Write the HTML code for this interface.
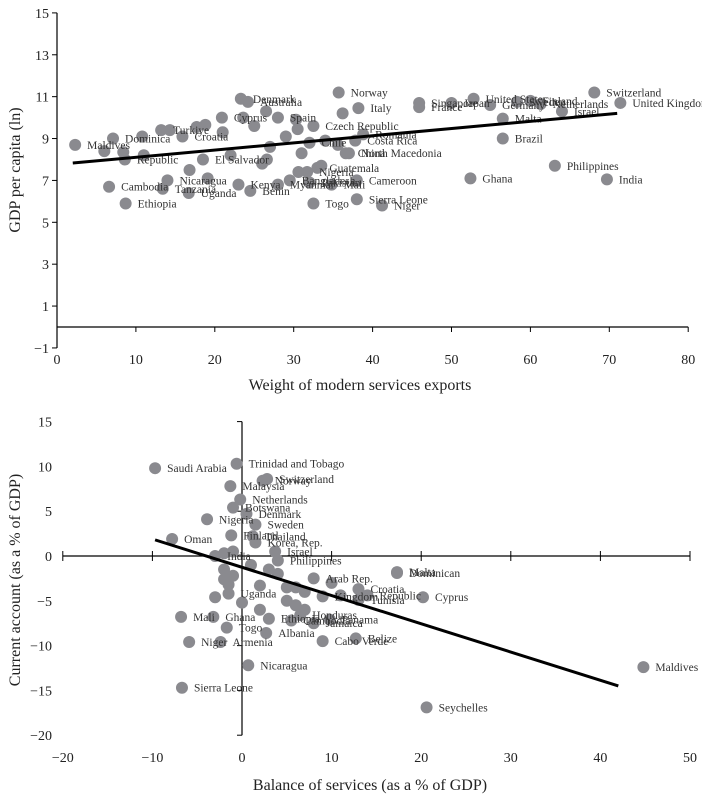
<!DOCTYPE html>
<html><head><meta charset="utf-8"><style>
body{margin:0;background:#fff;width:702px;height:800px;overflow:hidden}
svg{position:absolute;left:0;top:0}
text{font-family:"Liberation Serif",serif;fill:#222}
.lbl{font-size:11.5px;fill:#333}
</style></head><body>
<svg id="s" width="702" height="800"></svg>
<script>
// ---- Top chart data ----
const topNames=["Maldives","","Dominica","","Republic","","Turkiye","","Croatia","","","Cyprus","Denmark","Australia","","Spain","","","Czech Republic","Norway","Italy","","","Chile","North Macedonia","Guatemala","Nicaragua","","El Salvador","","Cambodia","Ethiopia","Tanzania","Uganda","","Benin","Kenya","Myanmar","Bangladesh","Pakistan","Togo","Mali","","","Sierra Leone","Niger","Cameroon","Nigeria","China","","Costa Rica","Romania","Singapore","France","Japan","United States","Germany","Sweden","Finland","Netherlands","Switzerland","United Kingdom","Israel","Malta","Brazil","Ghana","Philippines","India","","","","","","","","",""];
const topX=[2.3,6,7.1,8.4,8.6,10.8,13.2,14.3,15.9,17.7,18.8,20.9,23.3,24.2,23.6,28,26.5,30.5,32.5,35.7,38.2,36.2,30.3,32,37,33,14,26.6,18.5,16.8,6.6,8.7,13.4,16.7,19.1,24.5,23,28,29.5,32,32.5,34.8,30.6,33.5,38,41.2,38,31.7,36.6,35.6,37.8,38.8,45.9,45.9,50,52.8,54.9,58.3,60,61.3,68.1,71.4,64,56.5,56.5,52.4,63.1,69.7,21,25,27,29,22,26,31,34,11];
const topY=[8.7,8.4,9.0,8.35,8.0,9.1,9.4,9.4,9.1,9.55,9.65,10.0,10.9,10.75,10.0,10.0,10.3,9.45,9.6,11.2,10.45,10.2,9.9,8.8,8.3,7.6,7.0,8.0,8.0,7.5,6.7,5.9,6.6,6.4,7.1,6.5,6.8,6.8,7.0,6.9,5.9,6.8,7.4,7.7,6.1,5.8,7.0,7.4,8.3,8.7,8.9,9.2,10.7,10.5,10.7,10.9,10.6,10.75,10.8,10.65,11.2,10.7,10.3,9.95,9.0,7.1,7.7,7.05,9.3,9.6,8.6,9.1,8.2,7.8,8.3,8.9,8.2];
const topXTicks=[0,10,20,30,40,50,60,70,80];
const topYTicks=[-1,1,3,5,7,9,11,13,15];
const topTrend=[[2,7.83],[71,10.2]];
// ---- Bottom chart data ----
const botNames=["Saudi Arabia","Trinidad and Tobago","Norway","Switzerland","Malaysia","Netherlands","Botswana","Nigeria","Denmark","Sweden","Thailand","Oman","Korea, Rep.","Finland","Israel","India","","Philippines","","Arab Rep.","","","Kingdom","","","","Tunisia","","","","Uganda","","Mali","Ghana","Togo","Niger","Armenia","Albania","Cabo Verde","Belize","Honduras","Panama","Jamaica","Cambodia","Ethiopia","Dominican","Croatia","Republic","Malta","Cyprus","Nicaragua","Sierra Leone","Seychelles","Maldives","","","","","","","","","",""];
const botX=[-9.7,-0.6,2.3,2.8,-1.3,-0.2,-1,-3.9,0.5,1.5,1.2,-7.8,1.5,-1.2,3.7,-3,-2,4,-1,8,6,2,9,5,7,11,13,-1.5,-3,-2,-1.5,0,-6.8,-3.2,-1.7,-5.9,-2.4,2.7,9,12.7,6.5,9.8,8,5.5,3,17.3,13,14,17.3,20.2,0.7,-6.7,20.6,44.8,-2,4,10,1,3,5,6,-1,2,7];
const botY=[9.8,10.3,8.4,8.6,7.8,6.3,5.4,4.1,4.7,3.5,2.2,1.9,1.5,2.3,0.5,0,0.3,-0.5,-2.2,-2.5,-3.5,-3.3,-4.5,-5,-6,-4.4,-4.9,-3.2,-4.6,-2.6,-4.2,-5.2,-6.8,-6.8,-8.0,-9.6,-9.6,-8.6,-9.5,-9.2,-6.6,-7.1,-7.5,-7.2,-7,-1.9,-3.7,-4.4,-1.8,-4.6,-12.2,-14.7,-16.9,-12.4,-1.5,-2,-3,-1,-1.5,-3.5,-5.5,0.5,-6,-4];
const botXTicks=[-20,-10,0,10,20,30,40,50];
const botYTicks=[15,10,5,0,-5,-10,-15,-20];
const botTrend=[[-9.7,1.8],[42,-14.5]];

const NS="http://www.w3.org/2000/svg",S=document.getElementById('s');
function mk(t,a,p){const e=document.createElementNS(NS,t);for(const k in a)e.setAttribute(k,a[k]);(p||S).appendChild(e);return e;}
const tx=v=>57+v*7.89, ty=v=>327-v*20.94;
const bx=v=>242+v*8.96, by=v=>556-v*8.96;

// ---- top chart ----
const g1=mk('g',{});


let e=mk('line',{x1:tx(0),y1:ty(15),x2:tx(0),y2:ty(-1),stroke:'#000','stroke-width':1.2},g1);

e=mk('line',{x1:tx(0),y1:ty(0),x2:tx(80),y2:ty(0),stroke:'#000','stroke-width':1.2},g1);

topYTicks.forEach(v=>{mk('line',{x1:tx(0)-5,x2:tx(0),y1:ty(v),y2:ty(v),stroke:'#000'},g1);
 const t=mk('text',{x:tx(0)-8,y:ty(v)+5,'text-anchor':'end','font-size':14},g1);t.textContent=v<0?'\u2212'+(-v):v;
 });
topXTicks.forEach(v=>{mk('line',{x1:tx(v),x2:tx(v),y1:ty(0),y2:ty(0)+5,stroke:'#000'},g1);
 const t=mk('text',{x:tx(v),y:364,'text-anchor':'middle','font-size':14},g1);t.textContent=v;
 });
topX.forEach((v,i)=>{const c=mk('circle',{cx:tx(v),cy:ty(topY[i]),r:6,fill:'#8a8a8f'},g1);
 });
topX.forEach((v,i)=>{const n=topNames[i];if(!n)return;const t=mk('text',{x:tx(v)+12,y:ty(topY[i])+4,class:'lbl'},g1);t.textContent=n;
 });
e=mk('line',{x1:tx(topTrend[0][0]),y1:ty(topTrend[0][1]),x2:tx(topTrend[1][0]),y2:ty(topTrend[1][1]),stroke:'#000','stroke-width':3},g1);

e=mk('text',{x:360,y:390,'text-anchor':'middle','font-size':16},g1);e.textContent='Weight of modern services exports';

e=mk('text',{x:0,y:0,'text-anchor':'middle','font-size':16,transform:'translate(20,170) rotate(-90)'},g1);e.textContent='GDP per capita (ln)';


// ---- bottom chart ----
const g2=mk('g',{});


e=mk('line',{x1:bx(0),y1:by(15),x2:bx(0),y2:by(-20),stroke:'#000','stroke-width':1.2},g2);

e=mk('line',{x1:bx(-20),y1:by(0),x2:bx(50),y2:by(0),stroke:'#000','stroke-width':1.2},g2);

botYTicks.forEach(v=>{mk('line',{x1:bx(0)-5,x2:bx(0),y1:by(v),y2:by(v),stroke:'#000'},g2);
 const t=mk('text',{x:52,y:by(v)+5,'text-anchor':'end','font-size':14},g2);t.textContent=v<0?'\u2212'+(-v):v;
 });
botXTicks.forEach(v=>{mk('line',{x1:bx(v),x2:bx(v),y1:by(0)-5,y2:by(0)+5,stroke:'#000'},g2);
 const t=mk('text',{x:bx(v),y:762,'text-anchor':'middle','font-size':14},g2);t.textContent=v<0?'\u2212'+(-v):v;
 });
botX.forEach((v,i)=>{const c=mk('circle',{cx:bx(v),cy:by(botY[i]),r:6,fill:'#8a8a8f'},g2);
 });
botX.forEach((v,i)=>{const n=botNames[i];if(!n)return;const t=mk('text',{x:bx(v)+12,y:by(botY[i])+4,class:'lbl'},g2);t.textContent=n;
 });
e=mk('line',{x1:bx(botTrend[0][0]),y1:by(botTrend[0][1]),x2:bx(botTrend[1][0]),y2:by(botTrend[1][1]),stroke:'#000','stroke-width':3},g2);

e=mk('text',{x:370,y:790,'text-anchor':'middle','font-size':16},g2);e.textContent='Balance of services (as a % of GDP)';

e=mk('text',{x:0,y:0,'text-anchor':'middle','font-size':16,transform:'translate(20,580) rotate(-90)'},g2);e.textContent='Current account (as a % of GDP)';

</script>
</body></html>
